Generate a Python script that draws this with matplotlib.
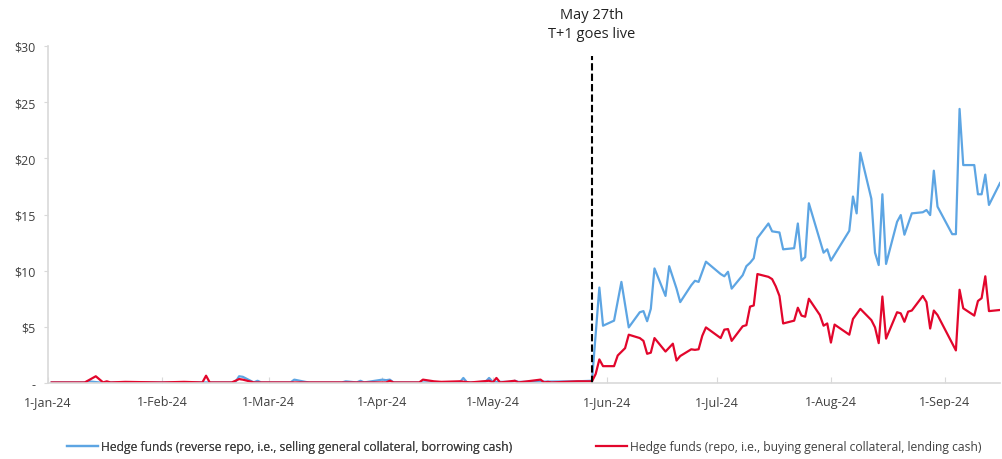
import pandas as pd
import matplotlib
matplotlib.use("Agg")
import matplotlib.pyplot as plt
import matplotlib.dates as mdates
from matplotlib.ticker import FuncFormatter

plt.rcParams['font.family'] = ['Open Sans', 'DejaVu Sans']

# daily repo volumes, $bn
rev_dates = ["2024-01-02", "2024-01-11", "2024-01-12", "2024-01-15", "2024-02-20", "2024-02-21",
             "2024-02-22", "2024-02-23", "2024-02-26", "2024-02-27", "2024-02-28", "2024-03-07",
             "2024-03-08", "2024-03-11", "2024-03-12", "2024-03-21", "2024-03-22", "2024-03-25",
             "2024-03-26", "2024-03-27", "2024-04-01", "2024-04-02", "2024-04-03", "2024-04-04",
             "2024-04-22", "2024-04-23", "2024-04-24", "2024-04-29", "2024-04-30", "2024-05-01",
             "2024-05-06", "2024-05-07", "2024-05-08", "2024-05-24", "2024-05-28",
             "2024-05-30", "2024-05-31", "2024-06-03", "2024-06-05", "2024-06-07", "2024-06-10",
             "2024-06-11", "2024-06-12", "2024-06-13", "2024-06-14", "2024-06-17", "2024-06-18",
             "2024-06-20", "2024-06-21", "2024-06-24", "2024-06-25", "2024-06-26", "2024-06-28",
             "2024-07-02", "2024-07-03", "2024-07-04", "2024-07-05", "2024-07-08", "2024-07-09",
             "2024-07-10", "2024-07-11", "2024-07-12", "2024-07-15", "2024-07-16", "2024-07-18",
             "2024-07-19", "2024-07-22", "2024-07-23", "2024-07-24", "2024-07-25", "2024-07-26",
             "2024-07-30", "2024-07-31", "2024-08-01", "2024-08-06", "2024-08-07", "2024-08-08",
             "2024-08-09", "2024-08-12", "2024-08-13", "2024-08-14", "2024-08-15", "2024-08-16",
             "2024-08-19", "2024-08-20", "2024-08-21", "2024-08-23", "2024-08-26", "2024-08-27",
             "2024-08-28", "2024-08-29", "2024-08-30", "2024-09-03", "2024-09-04", "2024-09-05",
             "2024-09-06", "2024-09-09", "2024-09-10", "2024-09-11", "2024-09-12", "2024-09-13",
             "2024-09-16"]
rev_vals = [0.05, 0.05, 0.15, 0.05, 0.05, 0.1,
            0.6, 0.55, 0.05, 0.2, 0.05, 0.05,
            0.3, 0.1, 0.05, 0.05, 0.15, 0.05,
            0.2, 0.05, 0.3, 0.25, 0.3, 0.05,
            0.05, 0.45, 0.05, 0.1, 0.45, 0.1,
            0.1, 0.2, 0.1, 0.15, 0.2,
            8.5, 5.1, 5.55, 9.0, 4.95, 6.3,
            6.4, 5.5, 6.6, 10.2, 7.75, 10.4,
            8.4, 7.2, 8.7, 9.1, 9.0, 10.8,
            9.7, 9.5, 9.9, 8.4, 9.6, 10.4,
            10.7, 11.1, 12.9, 14.2, 13.5, 13.4,
            11.9, 12.0, 14.2, 10.9, 11.2, 16.0,
            11.6, 11.9, 10.9, 13.55, 16.6, 15.1,
            20.5, 16.4, 11.6, 10.5, 16.8, 10.6,
            14.35, 14.95, 13.2, 15.1, 15.2, 15.4,
            14.95, 18.9, 15.7, 13.25, 13.25, 24.4,
            19.4, 19.4, 16.8, 16.8, 18.55, 15.85,
            17.8]

repo_dates = ["2024-01-02", "2024-01-11", "2024-01-14", "2024-01-16", "2024-01-17", "2024-01-18",
              "2024-01-22", "2024-02-01", "2024-02-07", "2024-02-12", "2024-02-13", "2024-02-14",
              "2024-02-20", "2024-02-22", "2024-02-23", "2024-02-26", "2024-03-20", "2024-04-02",
              "2024-04-03", "2024-04-04", "2024-04-11", "2024-04-12", "2024-04-15", "2024-04-17",
              "2024-04-22", "2024-04-25", "2024-04-30", "2024-05-01", "2024-05-02", "2024-05-03",
              "2024-05-07", "2024-05-08", "2024-05-14", "2024-05-15", "2024-05-16", "2024-05-17",
              "2024-05-24", "2024-05-28", "2024-05-29",
              "2024-05-30", "2024-05-31", "2024-06-03", "2024-06-04", "2024-06-06", "2024-06-07",
              "2024-06-10", "2024-06-11", "2024-06-12", "2024-06-13", "2024-06-14", "2024-06-17",
              "2024-06-19", "2024-06-20", "2024-06-21", "2024-06-24", "2024-06-25", "2024-06-26",
              "2024-06-27", "2024-06-28", "2024-07-02", "2024-07-03", "2024-07-04", "2024-07-05",
              "2024-07-08", "2024-07-09", "2024-07-10", "2024-07-11", "2024-07-12", "2024-07-15",
              "2024-07-16", "2024-07-17", "2024-07-18", "2024-07-19", "2024-07-22", "2024-07-23",
              "2024-07-24", "2024-07-25", "2024-07-26", "2024-07-29", "2024-07-30", "2024-07-31",
              "2024-08-01", "2024-08-02", "2024-08-06", "2024-08-07", "2024-08-09", "2024-08-12",
              "2024-08-13", "2024-08-14", "2024-08-15", "2024-08-16", "2024-08-19", "2024-08-20",
              "2024-08-21", "2024-08-22", "2024-08-23", "2024-08-26", "2024-08-27", "2024-08-28",
              "2024-08-29", "2024-08-30", "2024-09-04", "2024-09-05", "2024-09-06", "2024-09-09",
              "2024-09-10", "2024-09-11", "2024-09-12", "2024-09-13", "2024-09-16"]
repo_vals = [0.05, 0.05, 0.6, 0.05, 0.15, 0.05,
             0.1, 0.05, 0.1, 0.05, 0.65, 0.05,
             0.05, 0.35, 0.3, 0.05, 0.05, 0.05,
             0.2, 0.05, 0.05, 0.3, 0.15, 0.1,
             0.15, 0.05, 0.2, 0.05, 0.45, 0.05,
             0.2, 0.05, 0.3, 0.05, 0.1, 0.05,
             0.15, 0.15, 0.8,
             2.1, 1.5, 1.5, 2.45, 3.1, 4.3,
             4.0, 3.75, 2.6, 2.7, 4.0, 2.8,
             3.5, 2.0, 2.4, 3.0, 2.95, 3.0,
             4.2, 4.95, 4.0, 4.75, 4.8, 3.75,
             5.05, 5.15, 6.8, 6.9, 9.7, 9.45,
             9.25, 8.6, 7.75, 5.3, 5.55, 6.7,
             6.0, 5.9, 7.5, 6.05, 5.1, 5.3,
             3.6, 5.2, 4.3, 5.7, 6.6, 5.6,
             4.95, 3.55, 7.7, 3.95, 6.3, 6.2,
             5.45, 6.35, 6.45, 7.75, 7.2, 4.85,
             6.45, 6.05, 2.9, 8.3, 6.65, 6.0,
             7.3, 7.55, 9.5, 6.4, 6.5]

go_live = pd.Timestamp("2024-05-28")

fig = plt.figure(figsize=(10.02, 4.6), dpi=100)
ax = fig.add_axes([48 / 1002, 1 - 384 / 460, 952 / 1002, 337 / 460])

rev_line, = ax.plot(pd.to_datetime(rev_dates), rev_vals, color="#5DA5E3", lw=1.6)
repo_line, = ax.plot(pd.to_datetime(repo_dates), repo_vals, color="#E2062C", lw=1.6)

ax.axvline(go_live, ymin=0, ymax=0.97, color="black", lw=1.5, ls=(0, (3.5, 1.5)))
ax.text(go_live, 1.015, "May 27th\nT+1 goes live", transform=ax.get_xaxis_transform(),
        ha="center", va="bottom", fontsize=10.5, color="#222222", linespacing=1.35)

ax.set_xlim(pd.Timestamp("2024-01-01"), pd.Timestamp("2024-09-16"))
ax.set_ylim(0, 30)
ax.set_yticks(range(0, 31, 5))
ax.yaxis.set_major_formatter(FuncFormatter(lambda v, p: "-" if v == 0 else f"${v:.0f}"))
ax.xaxis.set_major_locator(mdates.MonthLocator())
ax.xaxis.set_major_formatter(mdates.DateFormatter("%-d-%b-%y"))

for side in ["top", "right"]:
    ax.spines[side].set_visible(False)
for side in ["left", "bottom"]:
    ax.spines[side].set_color("#D9D9D9")
    ax.spines[side].set_linewidth(1.2)
ax.tick_params(axis="y", direction="out", length=3, color="#D9D9D9", labelsize=9,
               labelcolor="#404040", pad=6)
ax.tick_params(axis="x", direction="in", length=4, color="#D9D9D9", labelsize=9,
               labelcolor="#404040", pad=9)

# two legend entries placed separately along the bottom
leg_kw = dict(loc="center left", frameon=False, fontsize=8.7, handlelength=2.6,
              handletextpad=0.2, labelcolor="#404040")
leg1 = fig.legend([rev_line],
                  ["Hedge funds (reverse repo, i.e., selling general collateral, borrowing cash)"],
                  bbox_to_anchor=(56 / 1002, 1 - 448 / 460), **leg_kw)
fig.add_artist(leg1)
fig.legend([repo_line],
           ["Hedge funds (repo, i.e., buying general collateral, lending cash)"],
           bbox_to_anchor=(585 / 1002, 1 - 448 / 460), **leg_kw)

fig.savefig("out.png", dpi=100)
